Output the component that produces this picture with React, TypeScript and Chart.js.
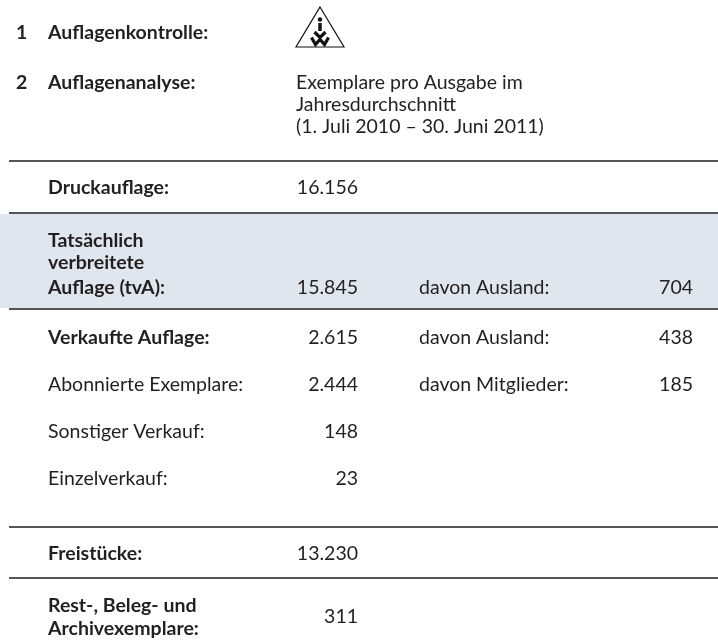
import React, { useEffect, useRef } from "react";
import { Chart, registerables } from "chart.js";

Chart.register(...registerables);

// ---- data ----
const headerNumbers = ["1", "2"];
const headerLabels = ["Auflagenkontrolle:", "Auflagenanalyse:"];
const periodLines = [
  "Exemplare pro Ausgabe im",
  "Jahresdurchschnitt",
  "(1. Juli 2010 – 30. Juni 2011)",
];
const rowLabels: string[][] = [
  ["Druckauflage:"],
  ["Tatsächlich", "verbreitete", "Auflage (tvA):"],
  ["Verkaufte Auflage:"],
  ["Abonnierte Exemplare:"],
  ["Sonstiger Verkauf:"],
  ["Einzelverkauf:"],
  ["Freistücke:"],
  ["Rest-, Beleg- und", "Archivexemplare:"],
];
const rowValues = [16156, 15845, 2615, 2444, 148, 23, 13230, 311];
const rowBold = [true, true, true, false, false, false, true, true];
const subLabels = ["", "davon Ausland:", "davon Ausland:", "davon Mitglieder:", "", "", "", ""];
const subValues: (number | null)[] = [null, 704, 438, 185, null, null, null, null];

// ---- layout (styling only) ----
const FONT = "Lato, 'Open Sans', sans-serif";
const SIZE = 19.5;
const TEXT = "#231f20";
const rowBaselines: number[][] = [
  [194],
  [247, 269, 294],
  [344],
  [391],
  [438],
  [485],
  [560],
  [612, 635],
];
const valueBaselines = [194, 294, 344, 391, 438, 485, 560, 623];
const ruleYs = [161, 213, 309, 527, 578];
const band = { top: 214, bottom: 308, color: "#dfe6ed" };

function fmt(n: number): string {
  return String(n).replace(/\B(?=(\d{3})+(?!\d))/g, ".");
}

const tablePlugin = {
  id: "tablePlugin",
  afterDraw(chart: any) {
    const ctx: CanvasRenderingContext2D = chart.ctx;
    const W = chart.width;
    ctx.save();

    // band
    ctx.fillStyle = band.color;
    ctx.fillRect(0, band.top, W, band.bottom - band.top);

    // rules
    ctx.strokeStyle = "#555555";
    ctx.lineWidth = 2;
    ruleYs.forEach((y) => {
      ctx.beginPath();
      ctx.moveTo(9, y);
      ctx.lineTo(W, y);
      ctx.stroke();
    });

    ctx.fillStyle = TEXT;
    ctx.textBaseline = "alphabetic";

    // headers
    const headerBase = [39, 89];
    ctx.font = `bold ${SIZE}px ${FONT}`;
    ctx.textAlign = "left";
    headerNumbers.forEach((n, i) => {
      ctx.fillText(n, 16, headerBase[i]);
      ctx.fillText(headerLabels[i], 48, headerBase[i]);
    });
    ctx.font = `${SIZE}px ${FONT}`;
    periodLines.forEach((t, i) => {
      ctx.fillText(t, 296, 89 + i * 22);
    });

    // logo
    ctx.strokeStyle = "#111";
    ctx.lineWidth = 1.2;
    ctx.beginPath();
    ctx.moveTo(320, 7);
    ctx.lineTo(344, 47);
    ctx.lineTo(296, 47);
    ctx.closePath();
    ctx.stroke();
    ctx.fillStyle = "#111";
    ctx.beginPath();
    ctx.arc(320, 19.5, 2.2, 0, Math.PI * 2);
    ctx.fill();
    ctx.fillRect(318.3, 23, 3.4, 8);
    ctx.lineWidth = 3.2;
    ctx.lineJoin = "miter";
    ctx.beginPath();
    ctx.moveTo(314.5, 32);
    ctx.lineTo(320, 37.5);
    ctx.lineTo(325.5, 32);
    ctx.stroke();
    ctx.beginPath();
    ctx.moveTo(311.5, 37.5);
    ctx.lineTo(315.5, 44.5);
    ctx.lineTo(320, 39.5);
    ctx.lineTo(324.5, 44.5);
    ctx.lineTo(328.5, 37.5);
    ctx.stroke();

    // rows
    ctx.fillStyle = TEXT;
    rowLabels.forEach((lines, i) => {
      ctx.font = `${rowBold[i] ? "bold " : ""}${SIZE}px ${FONT}`;
      ctx.textAlign = "left";
      lines.forEach((t, j) => ctx.fillText(t, 48, rowBaselines[i][j]));
      ctx.font = `${SIZE}px ${FONT}`;
      ctx.textAlign = "right";
      ctx.fillText(fmt(rowValues[i]), 358, valueBaselines[i]);
      if (subLabels[i]) {
        ctx.textAlign = "left";
        ctx.fillText(subLabels[i], 419, valueBaselines[i]);
      }
      const sv = subValues[i];
      if (sv !== null) {
        ctx.textAlign = "right";
        ctx.fillText(fmt(sv), 693, valueBaselines[i]);
      }
    });

    ctx.restore();
  },
};

export default function App() {
  const ref = useRef<HTMLCanvasElement | null>(null);
  useEffect(() => {
    if (!ref.current) return;
    const chart = new Chart(ref.current, {
      type: "bar",
      data: { labels: [], datasets: [] },
      options: {
        responsive: false,
        animation: false,
        layout: { padding: 0 },
        plugins: { legend: { display: false }, tooltip: { enabled: false } },
        scales: { x: { display: false }, y: { display: false } },
      },
      plugins: [tablePlugin],
    });
    return () => chart.destroy();
  }, []);
  return (
    <div style={{ position: "absolute", left: 0, top: 0, width: 718, height: 641, background: "#fff" }}>
      <canvas ref={ref} width={718} height={641} style={{ display: "block" }} />
    </div>
  );
}
